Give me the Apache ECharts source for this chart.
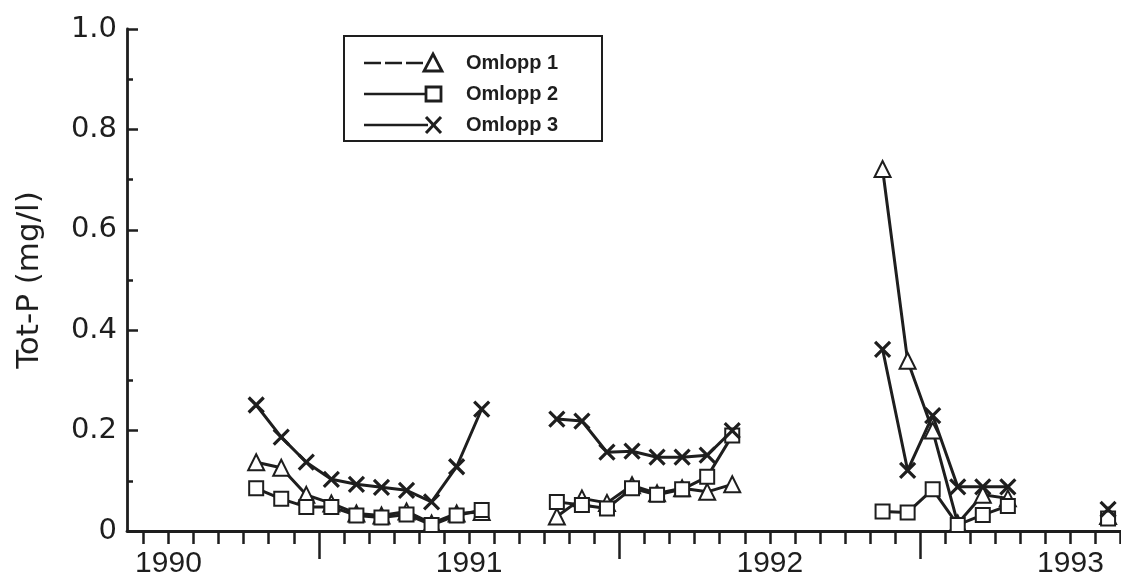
<!DOCTYPE html>
<html>
<head>
<meta charset="utf-8">
<script src="https://cdn.jsdelivr.net/npm/echarts@6/dist/echarts.min.js"></script>
<style>
  html, body { margin: 0; padding: 0; background: #ffffff; }
  #chart { width: 1121px; height: 579px; }
</style>
</head>
<body>
<div id="chart"></div>
<script>
// Sampling months (values are taken mid-month); total phosphorus in mg/l
const sampleMonths = [
  '1990-04', '1990-05', '1990-06', '1990-07', '1990-08', '1990-09', '1990-10', '1990-11', '1990-12', '1991-01',
  '1991-04', '1991-05', '1991-06', '1991-07', '1991-08', '1991-09', '1991-10', '1991-11',
  '1992-05', '1992-06', '1992-07', '1992-08', '1992-09', '1992-10',
  '1993-02'
];
const omlopp1 = [
  0.137, 0.126, 0.072, 0.055, 0.035, 0.031, 0.039, 0.015, 0.035, 0.038,
  0.029, 0.065, 0.056, 0.091, 0.075, 0.085, 0.078, 0.093,
  0.721, 0.339, 0.200, 0.015, 0.072, 0.065,
  0.030
];
const omlopp2 = [
  0.085, 0.064, 0.048, 0.048, 0.031, 0.027, 0.033, 0.012, 0.031, 0.042,
  0.058, 0.052, 0.045, 0.085, 0.072, 0.083, 0.108, 0.190,
  0.039, 0.037, 0.083, 0.012, 0.032, 0.050,
  0.025
];
const omlopp3 = [
  0.251, 0.187, 0.137, 0.103, 0.093, 0.087, 0.081, 0.058, 0.128, 0.243,
  0.223, 0.219, 0.157, 0.159, 0.147, 0.147, 0.151, 0.200,
  0.362, 0.121, 0.230, 0.088, 0.088, 0.088,
  0.043
];
const seriesNames = ['Omlopp 1', 'Omlopp 2', 'Omlopp 3'];
const yearLabels = [1990, 1991, 1992, 1993];
const yAxisTitle = 'Tot-P (mg/l)';

const INK = '#1e1e1e';
const X_MIN = 1989.862, X_MAX = 1993.168;

function parseMonth(s) {
  const p = s.split('-').map(Number);
  return { y: p[0], m: p[1] };
}
function toDecimalYear(s) {
  const d = parseMonth(s);
  return d.y + (d.m - 0.5) / 12;
}
function monthNumber(s) {
  const d = parseMonth(s);
  return d.y * 12 + d.m;
}
// points in [decimal year, value]; a null point breaks the line between field seasons
function buildData(values) {
  const out = [];
  sampleMonths.forEach((s, i) => {
    if (i > 0 && monthNumber(s) - monthNumber(sampleMonths[i - 1]) > 1) {
      out.push([toDecimalYear(s) - 1 / 24, null]);
    }
    out.push([toDecimalYear(s), values[i]]);
  });
  return out;
}

// monthly tick marks and longer mid-year marks
const monthTicks = [];
for (let k = -1; k <= 38; k++) monthTicks.push(1990 + k / 12);
const midYearTicks = [1990.5, 1991.5, 1992.5];

const crossSymbol = 'path://M0,0L10,10M10,0L0,10';

const chart = echarts.init(document.getElementById('chart'), null, { renderer: 'canvas' });

const baseSeries = {
  type: 'line',
  xAxisIndex: 0,
  yAxisIndex: 0,
  showAllSymbol: true,
  connectNulls: false,
  animation: false,
  z: 3
};

chart.setOption({
  backgroundColor: '#ffffff',
  animation: false,
  grid: { left: 127, right: 0, top: 29, bottom: 44.5, containLabel: false },
  xAxis: [
    {
      type: 'value',
      min: X_MIN,
      max: X_MAX,
      axisLine: { show: true, onZero: false, lineStyle: { color: INK, width: 2.8 } },
      axisTick: { show: true, length: 13, lineStyle: { color: INK, width: 2.5 }, customValues: monthTicks },
      axisLabel: {
        show: true,
        customValues: yearLabels,
        formatter: v => String(Math.round(v)),
        fontFamily: 'Liberation Sans, Arial, sans-serif',
        fontSize: 30,
        color: INK,
        margin: 18
      },
      splitLine: { show: false }
    },
    {
      type: 'value',
      min: X_MIN,
      max: X_MAX,
      position: 'bottom',
      axisLine: { show: false },
      axisTick: { show: true, length: 28, lineStyle: { color: INK, width: 2.5 }, customValues: midYearTicks },
      axisLabel: { show: false },
      splitLine: { show: false }
    }
  ],
  yAxis: {
    type: 'value',
    min: 0,
    max: 1,
    interval: 0.2,
    name: yAxisTitle,
    nameLocation: 'middle',
    nameGap: 82,
    nameTextStyle: { fontFamily: 'DejaVu Sans, sans-serif', fontSize: 31, color: INK },
    axisLine: { show: true, lineStyle: { color: INK, width: 2.8 } },
    axisTick: { show: true, inside: true, length: 11, lineStyle: { color: INK, width: 2.5 } },
    minorTick: { show: true, splitNumber: 2, length: 6, lineStyle: { color: INK, width: 2.5 } },
    axisLabel: {
      formatter: v => (v === 0 ? '0' : v.toFixed(1)),
      fontFamily: 'DejaVu Sans, sans-serif',
      fontSize: 29,
      color: INK,
      margin: 10
    },
    splitLine: { show: false }
  },
  series: [
    Object.assign({}, baseSeries, {
      name: seriesNames[0],
      data: buildData(omlopp1),
      symbol: 'emptyTriangle',
      symbolSize: 16,
      lineStyle: { color: INK, width: 3 },
      itemStyle: { color: INK, borderColor: INK, borderWidth: 3 }
    }),
    Object.assign({}, baseSeries, {
      name: seriesNames[1],
      data: buildData(omlopp2),
      symbol: 'emptyRect',
      symbolSize: 14,
      lineStyle: { color: INK, width: 3 },
      itemStyle: { color: INK, borderColor: INK, borderWidth: 3 }
    }),
    Object.assign({}, baseSeries, {
      name: seriesNames[2],
      data: buildData(omlopp3),
      symbol: crossSymbol,
      symbolSize: 15,
      lineStyle: { color: INK, width: 3 },
      itemStyle: { color: 'none', borderColor: INK, borderWidth: 3.2 }
    })
  ],
  // boxed key: line sample ending in the series marker, then the name
  graphic: [
    {
      type: 'group',
      left: 343,
      top: 35,
      z: 10,
      children: [
        { type: 'rect', shape: { x: 0, y: 0, width: 258, height: 105 }, style: { fill: '#ffffff', stroke: INK, lineWidth: 2 } },
        { type: 'line', shape: { x1: 20, y1: 27, x2: 82, y2: 27 }, style: { stroke: INK, lineWidth: 2.5, lineDash: [17, 4] } },
        { type: 'polygon', shape: { points: [[89, 18], [98, 35], [80, 35]] }, style: { fill: '#ffffff', stroke: INK, lineWidth: 2.8 } },
        { type: 'line', shape: { x1: 20, y1: 58, x2: 82, y2: 58 }, style: { stroke: INK, lineWidth: 2.5 } },
        { type: 'rect', shape: { x: 82, y: 51, width: 15, height: 14 }, style: { fill: '#ffffff', stroke: INK, lineWidth: 2.8 } },
        { type: 'line', shape: { x1: 20, y1: 89, x2: 84, y2: 89 }, style: { stroke: INK, lineWidth: 2.5 } },
        { type: 'line', shape: { x1: 82, y1: 81, x2: 97, y2: 97 }, style: { stroke: INK, lineWidth: 3 } },
        { type: 'line', shape: { x1: 97, y1: 81, x2: 82, y2: 97 }, style: { stroke: INK, lineWidth: 3 } },
        { type: 'text', x: 122, y: 27, style: { text: seriesNames[0], font: 'bold 20px "Liberation Sans", Arial, sans-serif', fill: INK, verticalAlign: 'middle' } },
        { type: 'text', x: 122, y: 58, style: { text: seriesNames[1], font: 'bold 20px "Liberation Sans", Arial, sans-serif', fill: INK, verticalAlign: 'middle' } },
        { type: 'text', x: 122, y: 89, style: { text: seriesNames[2], font: 'bold 20px "Liberation Sans", Arial, sans-serif', fill: INK, verticalAlign: 'middle' } }
      ]
    }
  ]
});
</script>
</body>
</html>
